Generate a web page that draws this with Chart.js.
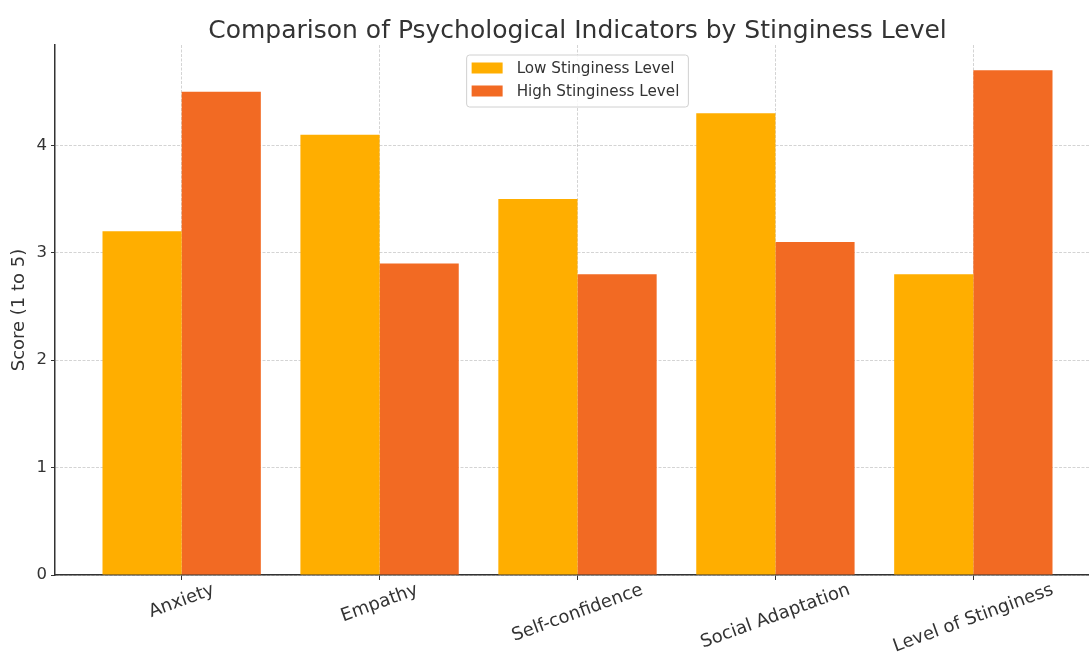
<!DOCTYPE html>
<html>
<head>
<meta charset="utf-8">
<script src="https://cdn.jsdelivr.net/npm/chart.js@4.4.0/dist/chart.umd.min.js"></script>
<style>
html,body{margin:0;padding:0;background:#fff;overflow:hidden;}
#wrap{width:1089px;height:653px;overflow:hidden;}
canvas{display:block;}
</style>
</head>
<body>
<div id="wrap"><canvas id="c" width="1100" height="653"></canvas></div>
<script>
const categories = ["Anxiety", "Empathy", "Self-confidence", "Social Adaptation", "Level of Stinginess"];
const lowStinginess = [3.2, 4.1, 3.5, 4.3, 2.8];
const highStinginess = [4.5, 2.9, 2.8, 3.1, 4.7];
const seriesNames = ["Low Stinginess Level", "High Stinginess Level"];
const yTicks = [0, 1, 2, 3, 4];
const titleText = "Comparison of Psychological Indicators by Stinginess Level";
const yTitle = "Score (1 to 5)";

const FONT = "'DejaVu Sans', sans-serif";
const TXT = "#333333";
const GRID = "rgba(165,165,165,0.6)";

const overlay = {
  id: 'overlay',
  afterDraw(chart) {
    const ctx = chart.ctx;
    const ca = chart.chartArea;
    const xs = chart.scales.x;
    const cx = (ca.left + ca.right) / 2;
    ctx.save();
    // title
    ctx.fillStyle = TXT;
    ctx.font = "25px " + FONT;
    ctx.textAlign = 'center';
    ctx.textBaseline = 'alphabetic';
    ctx.fillText(titleText, cx, 38);
    // x tick labels, rotated and centered
    const th = 20 * Math.PI / 180;
    ctx.font = "18px " + FONT;
    categories.forEach((c, i) => {
      const x = xs.getPixelForValue(i);
      const L = ctx.measureText(c).width;
      const h = 16;
      const H = L * Math.sin(th) + h * Math.cos(th);
      const y = ca.bottom + 7 + H / 2;
      ctx.save();
      ctx.translate(x, y);
      ctx.rotate(-th);
      ctx.textAlign = 'center';
      ctx.textBaseline = 'middle';
      ctx.fillStyle = TXT;
      ctx.fillText(c, 0, 0);
      ctx.restore();
    });
    // legend
    ctx.font = "15.2px " + FONT;
    const tw = Math.max(...chart.data.datasets.map(d => ctx.measureText(d.label).width));
    const bw = 5 + 31 + 14 + tw + 9;
    const bx = cx - bw / 2;
    const by = 55, bh = 52;
    ctx.beginPath();
    if (ctx.roundRect) ctx.roundRect(bx, by, bw, bh, 3); else ctx.rect(bx, by, bw, bh);
    ctx.fillStyle = "rgba(255,255,255,0.85)";
    ctx.fill();
    ctx.strokeStyle = "#d0d0d0";
    ctx.lineWidth = 1;
    ctx.stroke();
    chart.data.datasets.forEach((d, i) => {
      const ry = 68 + i * 23;
      ctx.fillStyle = d.backgroundColor;
      ctx.fillRect(bx + 5, ry - 5.5, 31, 11);
      ctx.fillStyle = TXT;
      ctx.textAlign = 'left';
      ctx.textBaseline = 'middle';
      ctx.fillText(d.label, bx + 5 + 31 + 14, ry + 1);
    });
    ctx.restore();
  }
};

new Chart(document.getElementById('c'), {
  type: 'bar',
  data: {
    datasets: [
      { label: seriesNames[0], data: categories.map((c, i) => ({ x: i, y: lowStinginess[i] })), backgroundColor: '#FFAE00', borderWidth: 0 },
      { label: seriesNames[1], data: categories.map((c, i) => ({ x: i, y: highStinginess[i] })), backgroundColor: '#F26A23', borderWidth: 0 }
    ]
  },
  options: {
    responsive: false,
    devicePixelRatio: 1,
    animation: false,
    layout: { padding: { top: 45, right: 0, bottom: 0, left: 0 } },
    datasets: { bar: { categoryPercentage: 0.8, barPercentage: 1.0 } },
    plugins: { legend: { display: false }, title: { display: false }, tooltip: { enabled: false } },
    scales: {
      x: {
        type: 'linear',
        min: -0.64, max: 4.64,
        offset: false,
        z: 1,
        afterBuildTicks: s => { s.ticks = categories.map((c, i) => ({ value: i })); },
        afterFit: s => { s.height = 78; },
        ticks: { display: false },
        grid: { offset: false, color: GRID, lineWidth: 0.8, drawTicks: true, tickLength: 5, tickColor: '#333', tickWidth: 1, tickBorderDash: [] },
        border: { display: true, color: '#333', width: 1.5, dash: [3, 1.5] }
      },
      y: {
        min: 0, max: 4.935,
        z: 1,
        afterBuildTicks: s => { s.ticks = yTicks.map(v => ({ value: v })); },
        afterFit: s => { s.width = 55; },
        ticks: { color: TXT, font: { family: FONT, size: 16.5 }, padding: 4 },
        grid: { color: GRID, lineWidth: 0.8, drawTicks: true, tickLength: 4, tickColor: '#333', tickWidth: 1, tickBorderDash: [] },
        border: { display: true, color: '#333', width: 1.5, dash: [3, 1.5] },
        title: { display: true, text: yTitle, color: TXT, font: { family: FONT, size: 18 }, padding: { top: 9, bottom: 0 } }
      }
    }
  },
  plugins: [overlay]
});
</script>
</body>
</html>
